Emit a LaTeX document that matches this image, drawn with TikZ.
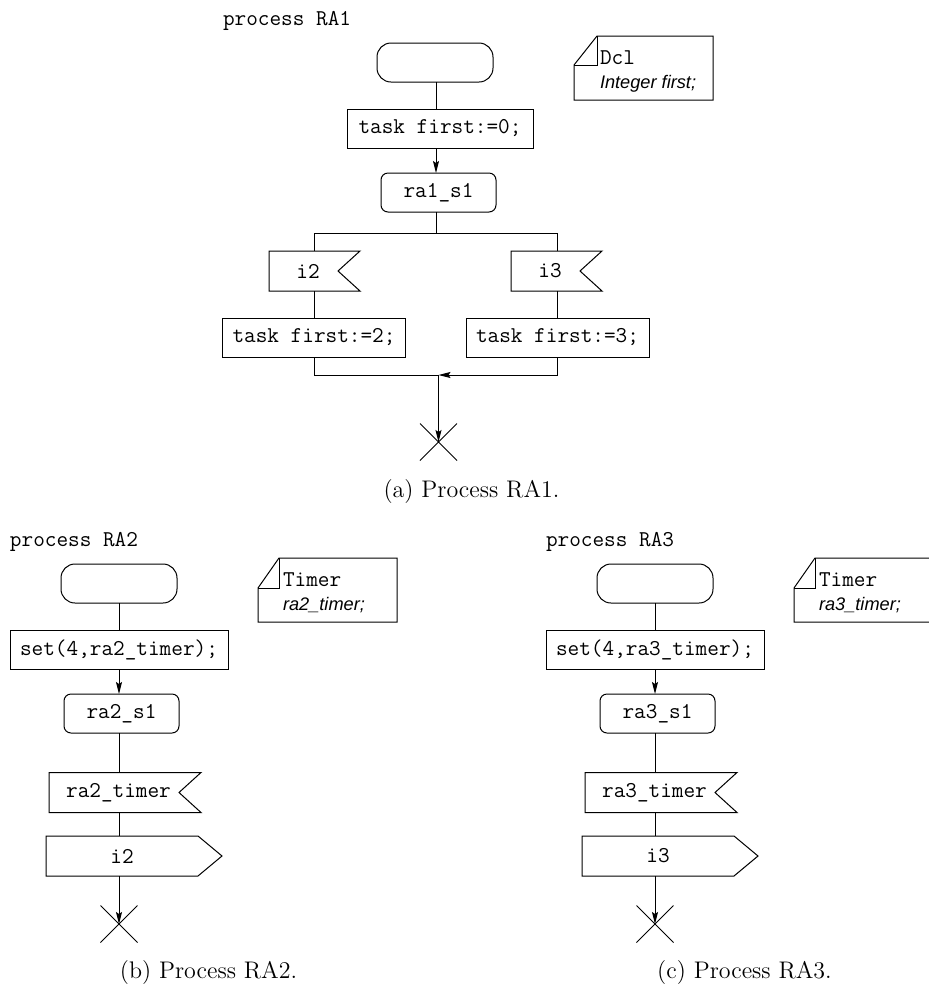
\documentclass[tikz,border=0pt]{standalone}
\usepackage{fontspec}
\newfontfamily\declsans{Liberation Sans}
\usetikzlibrary{shapes.misc,arrows.meta}
\begin{document}
\begin{tikzpicture}[x=0.5pt,y=-0.5pt,
  line width=0.5pt,
  every node/.style={inner sep=0pt, outer sep=0pt},
  code/.style={font=\ttfamily\fontsize{11.3}{13}\selectfont},
  decl/.style={font=\declsans\itshape\fontsize{9.1}{11}\selectfont},
  subcaption/.style={font=\fontsize{12}{14}\selectfont},
  startbox/.style={draw, rectangle, rounded corners=7pt, minimum width=58pt, minimum height=19.5pt},
  statebox/.style={code, draw, rectangle, rounded corners=3.5pt, minimum width=57.5pt, minimum height=19.5pt},
  taskbox/.style={code, draw, rectangle, minimum height=19.5pt},
  sigbox/.style={code, rectangle, minimum height=20pt},
  notebox/.style={rectangle, minimum width=69.5pt, minimum height=32pt},
  stopmark/.style={draw, cross out, minimum size=18.5pt},
  flow/.style={-{Stealth[length=6pt,width=3pt,inset=1pt]}},
]
\useasboundingbox (0,0) rectangle (928,987);

% ---------------- process RA1 ----------------
\node[code, anchor=base west] (titlea) at (223,25) {process RA1};
\node[startbox] (starta) at (435,62.5) {};
\node[taskbox, minimum width=93pt] (taska) at (440,128.5) {task first:=0;};
\node[statebox] (statea) at (438.5,192.5) {ra1\_s1};
\coordinate (cola) at (436,0);
\draw (starta.south -| cola) -- (taska.north -| cola);
\draw[flow] (taska.south -| cola) -- (statea.north -| cola);

\coordinate (forka) at (436,233);
\coordinate (lefta) at (314,233);
\coordinate (righta) at (557,233);
\draw (statea.south -| cola) -- (forka);
\draw (lefta) -- (righta);

% input signals i2 / i3
\node[sigbox, minimum width=39pt] (i2a) at (308,271) {i2};
\draw (i2a.north west) -- ([xshift=6.5pt]i2a.north east) -- ([xshift=-4.5pt]i2a.east)
      -- ([xshift=6.5pt]i2a.south east) -- (i2a.south west) -- cycle;
\node[sigbox, minimum width=39pt] (i3a) at (550,271) {i3};
\draw (i3a.north west) -- ([xshift=6.5pt]i3a.north east) -- ([xshift=-4.5pt]i3a.east)
      -- ([xshift=6.5pt]i3a.south east) -- (i3a.south west) -- cycle;

\node[taskbox, minimum width=91.5pt] (t2a) at (314,337.5) {task first:=2;};
\node[taskbox, minimum width=91.5pt] (t3a) at (557.5,337.5) {task first:=3;};

\draw (lefta) -- (lefta |- i2a.north);
\draw (righta) -- (righta |- i3a.north);
\draw (lefta |- i2a.south) -- (lefta |- t2a.north);
\draw (righta |- i3a.south) -- (righta |- t3a.north);

\coordinate (joina) at (438.5,375);
\node[stopmark] (stopa) at (438.5,442) {};
\draw (lefta |- t2a.south) -- (lefta |- joina) -- (joina);
\draw[flow] (righta |- t3a.south) -- (righta |- joina) -- (joina);
\draw[flow] (joina) -- (stopa.center);

% declaration note
\node[notebox] (notea) at (643.5,68) {};
\draw ([xshift=11.5pt]notea.north west) -- (notea.north east) -- (notea.south east)
      -- (notea.south west) -- ([yshift=-14.5pt]notea.north west) -- cycle;
\draw ([xshift=11.5pt]notea.north west) -- ([xshift=11.5pt,yshift=-14.5pt]notea.north west)
      -- ([yshift=-14.5pt]notea.north west);
\node[code, anchor=base west] (dcla) at (600,64) {Dcl};
\node[decl, anchor=base west] (vara) at (600,88) {Integer first;};

\node[subcaption, anchor=base] (capa) at (471.5,497) {(a) Process RA1.};

% ---------------- process RA2 and RA3 ----------------
\foreach \k/\dx/\lt in {2/0/b, 3/536/c} {
  \node[code, anchor=base west] (title\k) at (\dx+10,546) {process RA\k};
  \node[startbox] (start\k) at (\dx+119,583.5) {};
  \node[taskbox, minimum width=109pt] (set\k) at (\dx+119,649.5) {set(4,ra\k\_timer);};
  \node[statebox] (state\k) at (\dx+121.5,713.5) {ra\k\_s1};
  \node[sigbox, minimum width=69.5pt] (timer\k) at (\dx+118.5,792.5) {ra\k\_timer};
  \draw (timer\k.north west) -- ([xshift=6.5pt]timer\k.north east) -- ([xshift=-4.5pt]timer\k.east)
        -- ([xshift=6.5pt]timer\k.south east) -- (timer\k.south west) -- cycle;
  \node[sigbox, minimum width=76pt] (out\k) at (\dx+122,856) {i\k};
  \draw (out\k.north west) -- (out\k.north east) -- ([xshift=12pt]out\k.east)
        -- (out\k.south east) -- (out\k.south west) -- cycle;
  \node[stopmark] (stop\k) at (\dx+119,924) {};
  \coordinate (col\k) at (\dx+119,0);

  \draw (start\k.south -| col\k) -- (set\k.north -| col\k);
  \draw[flow] (set\k.south -| col\k) -- (state\k.north -| col\k);
  \draw (state\k.south -| col\k) -- (timer\k.north -| col\k);
  \draw (timer\k.south -| col\k) -- (out\k.north -| col\k);
  \draw[flow] (out\k.south -| col\k) -- (stop\k.center);

  \node[notebox] (note\k) at (\dx+327.5,590) {};
  \draw ([xshift=10.5pt]note\k.north west) -- (note\k.north east) -- (note\k.south east)
        -- (note\k.south west) -- ([yshift=-15pt]note\k.north west) -- cycle;
  \draw ([xshift=10.5pt]note\k.north west) -- ([xshift=10.5pt,yshift=-15pt]note\k.north west)
        -- ([yshift=-15pt]note\k.north west);
  \node[code, anchor=base west] (tmr\k) at (\dx+283,586) {Timer};
  \node[decl, anchor=base west] (tvar\k) at (\dx+283,610) {ra\k\_timer;};

  \node[subcaption, anchor=base] (cap\k) at (\dx+208.5,978) {(\lt) Process RA\k.};
}
\end{tikzpicture}
\end{document}
